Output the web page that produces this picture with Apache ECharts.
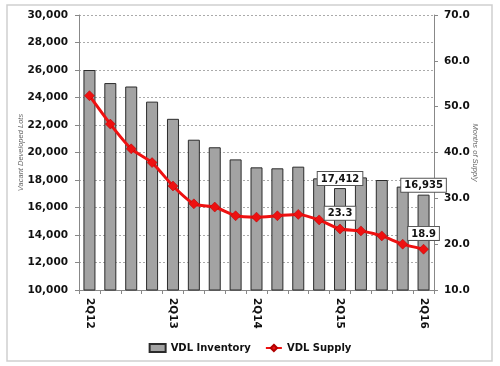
<!DOCTYPE html>
<html>
<head>
<meta charset="utf-8">
<script src="https://cdn.jsdelivr.net/npm/echarts@6/dist/echarts.min.js"></script>
<style>
html,body{margin:0;padding:0;background:#fff;}
#chart{width:500px;height:366px;}
</style>
</head>
<body>
<div id="chart"></div>
<script>
var quarters = ["2Q12","3Q12","4Q12","1Q13","2Q13","3Q13","4Q13","1Q14","2Q14","3Q14","4Q14","1Q15","2Q15","3Q15","4Q15","1Q16","2Q16"];
var inventory = [26000, 25050, 24800, 23700, 22450, 20930, 20380, 19500, 18920, 18850, 18970, 18120, 17412, 18190, 18000, 17520, 16935];
var supply = [52.4, 46.2, 40.8, 37.8, 32.7, 28.8, 28.1, 26.2, 25.9, 26.2, 26.5, 25.3, 23.3, 22.9, 21.8, 20.0, 18.9];
var labeledIdx = [12, 16];
var seriesNames = ["VDL Inventory", "VDL Supply"];
var axisNames = ["Vacant Developed Lots", "Months of Supply"];

var FONT = "DejaVu Sans";
var boxLabel = {
  show: true, position: 'top', color: '#111', fontFamily: FONT, fontWeight: 'bold', fontSize: 10,
  backgroundColor: '#fff', borderColor: '#555', borderWidth: 1, padding: [2, 3, 1, 3]
};

var chart = echarts.init(document.getElementById('chart'), null, {renderer: 'canvas'});
chart.setOption({
  animation: false,
  backgroundColor: '#fff',
  graphic: [{
    type: 'rect', shape: {x: 7, y: 5, width: 485, height: 356},
    style: {fill: 'none', stroke: '#cfcfcf', lineWidth: 1.5}, z: -1
  }],
  grid: {left: 79, right: 66, top: 15, bottom: 76},
  legend: {
    left: 'center', top: 338, itemGap: 14, itemWidth: 16, itemHeight: 8,
    textStyle: {fontFamily: FONT, fontWeight: 'bold', fontSize: 10, color: '#111'},
    data: [{name: seriesNames[0], icon: 'rect'}, {name: seriesNames[1]}]
  },
  xAxis: {
    type: 'category', data: quarters, boundaryGap: true,
    axisLine: {lineStyle: {color: '#888', width: 1}},
    axisTick: {show: true, interval: 0, length: 4, lineStyle: {color: '#888'}},
    axisLabel: {interval: 3, rotate: -90, margin: 8, color: '#111', fontFamily: FONT, fontWeight: 'bold', fontSize: 10.5},
    splitLine: {show: false}
  },
  yAxis: [{
    type: 'value', min: 10000, max: 30000, interval: 2000, position: 'left',
    name: axisNames[0], nameLocation: 'middle', nameGap: 54, nameMoveOverlap: false,
    nameTextStyle: {fontFamily: 'Liberation Sans', fontStyle: 'italic', fontSize: 7.5, color: '#666'},
    axisLine: {show: true, lineStyle: {color: '#888'}},
    axisTick: {show: true, length: 4, lineStyle: {color: '#888'}},
    axisLabel: {margin: 11, color: '#111', fontFamily: FONT, fontWeight: 'bold', fontSize: 10.5,
      formatter: function (v) { return v.toLocaleString('en-US'); }},
    splitLine: {show: true, lineStyle: {color: '#aaaaaa', type: [2, 2], width: 1}}
  }, {
    type: 'value', min: 10, max: 70, interval: 10, position: 'right',
    name: axisNames[1], nameLocation: 'middle', nameGap: 37, nameRotate: -90, nameMoveOverlap: false,
    nameTextStyle: {fontFamily: 'Liberation Sans', fontStyle: 'italic', fontSize: 7.5, color: '#666'},
    axisLine: {show: true, lineStyle: {color: '#888'}},
    axisTick: {show: true, length: 4, lineStyle: {color: '#888'}},
    axisLabel: {margin: 10, color: '#111', fontFamily: FONT, fontWeight: 'bold', fontSize: 10.5,
      formatter: function (v) { return v.toFixed(1); }},
    splitLine: {show: false}
  }],
  series: [{
    name: seriesNames[0], type: 'bar', yAxisIndex: 0, barWidth: 12,
    itemStyle: {color: '#a3a3a3', borderColor: '#2b2b2b', borderWidth: 1},
    label: Object.assign({}, boxLabel, {show: false, distance: 3,
      formatter: function (p) { return p.value.toLocaleString('en-US'); }}),
    data: inventory.map(function (v, i) {
      return labeledIdx.indexOf(i) >= 0 ? {value: v, label: {show: true}} : v;
    })
  }, {
    name: seriesNames[1], type: 'line', yAxisIndex: 1, smooth: 0.2,
    symbol: 'diamond', symbolSize: 10,
    lineStyle: {color: '#ee1111', width: 3},
    itemStyle: {color: '#ee1111', borderColor: '#b00000', borderWidth: 0.5},
    label: Object.assign({}, boxLabel, {show: false, distance: 4,
      formatter: function (p) { return p.value.toFixed(1); }}),
    data: supply.map(function (v, i) {
      return labeledIdx.indexOf(i) >= 0 ? {value: v, label: {show: true}} : v;
    }),
    z: 5
  }]
});
</script>
</body>
</html>
